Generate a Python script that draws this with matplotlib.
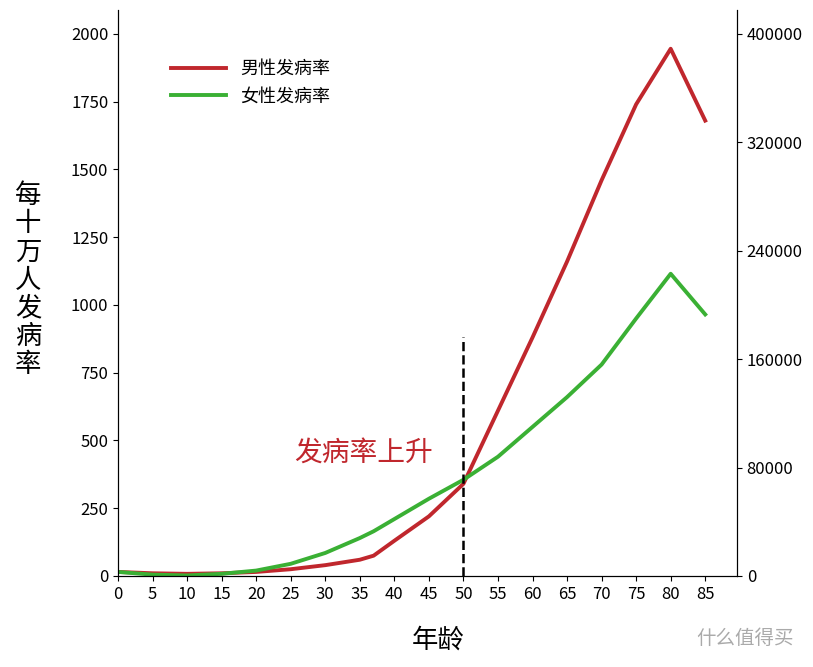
import matplotlib
matplotlib.use("Agg")
import matplotlib.pyplot as plt

plt.rcParams['font.family'] = ['Noto Sans CJK SC', 'DejaVu Sans']

ages = [0, 5, 10, 15, 20, 25, 30, 35, 37, 40, 45, 50, 55, 60, 65, 70, 75, 80, 85]
male = [15, 10, 8, 10, 15, 25, 40, 60, 75, 130, 220, 340, 610, 880, 1160, 1460, 1740, 1945, 1680]
female = [15, 5, 2, 8, 20, 45, 85, 140, 165, 210, 285, 355, 440, 550, 660, 780, 950, 1115, 965]
xticks = list(range(0, 90, 5))
yticks = [0, 250, 500, 750, 1000, 1250, 1500, 1750, 2000]
rticks = [0, 80000, 160000, 240000, 320000, 400000]

fig = plt.figure(figsize=(8.13, 6.67), dpi=100)
ax = fig.add_axes([118/813, 91/667, 619/813, 566/667])
ax.plot(ages, male, color='#c0272d', lw=2.8, label='男性发病率')
ax.plot(ages, female, color='#3ab034', lw=2.8, label='女性发病率')
ax.plot([50, 50], [0, 880], color='black', ls='--', lw=1.8)
ax.text(25.5, 455, '发病率上升', color='#c0272d', fontsize=20, va='center')
ax.set_xlim(0, 89.6)
ax.set_ylim(0, 2088)
ax.set_xticks(xticks)
ax.set_yticks(yticks)
ax.tick_params(labelsize=12)
ax.spines['top'].set_visible(False)
ax.legend(loc='upper left', bbox_to_anchor=(0.06, 0.94), frameon=False, fontsize=13, handlelength=3)
ax2 = ax.twinx()
ax2.set_ylim(0, 2088 * 200)
ax2.set_yticks(rticks)
ax2.tick_params(labelsize=12)
ax2.spines['top'].set_visible(False)
fig.text(28/813, 1 - 280/667, '每\n十\n万\n人\n发\n病\n率', fontsize=19, ha='center', va='center', linespacing=1.05)
fig.text(438/813, 1 - 640/667, '年龄', fontsize=19, ha='center', va='center')
fig.text(745/813, 1 - 638/667, '什么值得买', fontsize=14, color='#aaaaaa', ha='center', va='center')
fig.savefig('out.png', dpi=100)
